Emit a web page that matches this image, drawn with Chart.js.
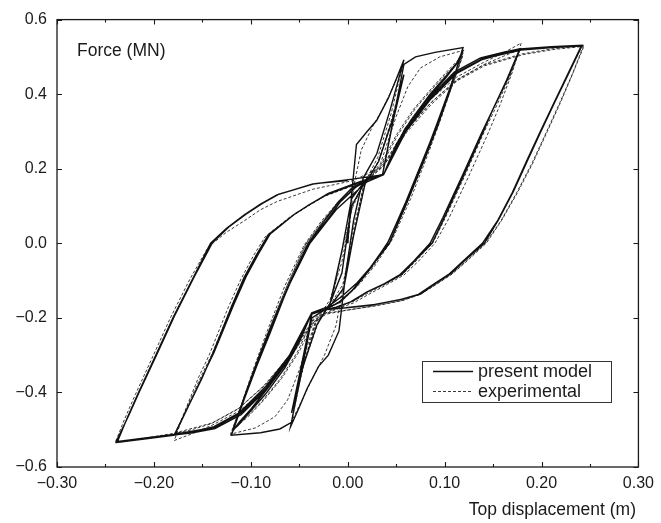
<!DOCTYPE html>
<html>
<head>
<meta charset="utf-8">
<script src="https://cdn.jsdelivr.net/npm/chart.js@4/dist/chart.umd.min.js"></script>
<style>
  html, body { margin: 0; padding: 0; background: #ffffff; }
  canvas { display: block; }
</style>
</head>
<body>
<canvas id="chart" width="661" height="523"></canvas>
<script>
// Top displacement (m) vs. force (MN), cyclic test at ±0.06, ±0.12, ±0.18, ±0.24 m

const xTickValues = [-0.30, -0.20, -0.10, 0.00, 0.10, 0.20, 0.30];
const xTickLabels = ['\u22120.30', '\u22120.20', '\u22120.10', '0.00', '0.10', '0.20', '0.30'];
const yTickValues = [-0.6, -0.4, -0.2, 0.0, 0.2, 0.4, 0.6];
const yTickLabels = ['\u22120.6', '\u22120.4', '\u22120.2', '0.0', '0.2', '0.4', '0.6'];

const seriesNames = ['present model', 'experimental'];

// present model: [displacement, force]
const modelLoop06 = [
  [0.000,0.000],[0.004,0.130],[0.009,0.265],[0.020,0.300],[0.030,0.330],[0.042,0.390],[0.050,0.440],[0.058,0.492],
  [0.044,0.360],[0.030,0.240],[0.016,0.175],[0.006,0.060],[-0.002,-0.080],[-0.009,-0.235],
  [-0.020,-0.300],[-0.030,-0.330],[-0.042,-0.390],[-0.050,-0.440],[-0.059,-0.492],
  [-0.048,-0.350],[-0.037,-0.200],[-0.020,-0.172],[-0.006,-0.080],[0.004,0.100],[0.020,0.175],[0.036,0.185],
  [0.047,0.330],[0.058,0.452],
  [0.046,0.330],[0.032,0.220],[0.018,0.160],[0.006,0.020],[-0.004,-0.120],[-0.020,-0.175],[-0.037,-0.190],
  [-0.048,-0.330],[-0.058,-0.455],
  [-0.046,-0.330],[-0.032,-0.220],[-0.018,-0.160],[-0.006,-0.020],[0.004,0.120],[0.020,0.175],[0.036,0.185]
];
const modelLoop12 = [
  [0.058,0.480],[0.070,0.500],[0.090,0.512],[0.119,0.525],
  [0.107,0.423],[0.093,0.316],[0.080,0.230],[0.062,0.115],[0.043,0.000],[0.025,-0.060],[0.010,-0.105],[-0.005,-0.140],[-0.020,-0.170],[-0.037,-0.186],
  [-0.058,-0.480],[-0.070,-0.498],[-0.090,-0.508],[-0.120,-0.515],
  [-0.107,-0.420],[-0.094,-0.330],[-0.080,-0.240],[-0.062,-0.120],[-0.039,0.000],[-0.024,0.050],[-0.012,0.090],[0.005,0.130],[0.020,0.165],[0.037,0.184],
  [0.045,0.235],[0.059,0.307],[0.083,0.390],[0.100,0.440],[0.112,0.480],[0.119,0.518],
  [0.106,0.420],[0.092,0.320],[0.079,0.230],[0.060,0.110],[0.041,0.000],[0.022,-0.070],[0.005,-0.125],[-0.010,-0.160],[-0.024,-0.178],[-0.037,-0.186],
  [-0.045,-0.235],[-0.059,-0.307],[-0.083,-0.390],[-0.100,-0.445],[-0.112,-0.480],[-0.119,-0.505],
  [-0.106,-0.410],[-0.092,-0.310],[-0.078,-0.220],[-0.060,-0.110],[-0.040,0.000],[-0.022,0.060],[-0.008,0.110],[0.008,0.150],[0.022,0.172],[0.037,0.184],
  [0.050,0.265],[0.065,0.330],[0.085,0.400],[0.102,0.450],[0.113,0.485],[0.118,0.512],
  [0.105,0.410],[0.091,0.310],[0.077,0.220],[0.059,0.105],[0.042,0.005],[0.024,-0.065],[0.008,-0.118],[-0.008,-0.158],[-0.024,-0.178],[-0.037,-0.186],
  [-0.050,-0.265],[-0.065,-0.335],[-0.085,-0.405],[-0.102,-0.455],[-0.113,-0.488],[-0.118,-0.500],
  [-0.105,-0.400],[-0.091,-0.300],[-0.077,-0.210],[-0.059,-0.100],[-0.041,0.000],[-0.024,0.060],[-0.010,0.110],[0.005,0.150],[0.020,0.170],[0.037,0.184]
];
const modelLoop18 = [
  [0.059,0.307],[0.083,0.387],[0.110,0.459],[0.137,0.497],[0.160,0.512],[0.178,0.522],
  [0.165,0.440],[0.150,0.360],[0.140,0.300],[0.120,0.183],[0.100,0.070],[0.087,0.000],[0.070,-0.045],[0.056,-0.083],[0.040,-0.106],[0.022,-0.128],[0.005,-0.155],[-0.010,-0.170],[-0.022,-0.178],[-0.037,-0.186],
  [-0.059,-0.307],[-0.083,-0.390],[-0.110,-0.460],[-0.137,-0.497],[-0.160,-0.508],[-0.179,-0.514],
  [-0.165,-0.440],[-0.150,-0.360],[-0.140,-0.300],[-0.120,-0.170],[-0.107,-0.092],[-0.094,-0.030],[-0.082,0.023],[-0.056,0.076],[-0.040,0.103],[-0.022,0.130],[0.005,0.156],[0.022,0.174],[0.037,0.184],
  [0.060,0.300],[0.085,0.385],[0.112,0.455],[0.138,0.492],[0.160,0.508],[0.177,0.518],
  [0.164,0.438],[0.149,0.355],[0.138,0.295],[0.118,0.180],[0.098,0.068],[0.085,0.000],[0.068,-0.048],[0.054,-0.084],[0.038,-0.108],[0.020,-0.130],[0.003,-0.157],[-0.012,-0.171],[-0.024,-0.179],[-0.037,-0.186],
  [-0.060,-0.300],[-0.085,-0.385],[-0.112,-0.455],[-0.138,-0.492],[-0.160,-0.505],[-0.178,-0.511],
  [-0.164,-0.435],[-0.149,-0.352],[-0.138,-0.293],[-0.118,-0.167],[-0.105,-0.090],[-0.092,-0.028],[-0.080,0.025],[-0.054,0.080],[-0.038,0.106],[-0.020,0.134],[0.007,0.160],[0.023,0.175],[0.037,0.184]
];
const modelLoop24 = [
  [0.059,0.307],[0.083,0.387],[0.110,0.459],[0.137,0.497],[0.178,0.521],[0.210,0.527],[0.242,0.531],
  [0.227,0.450],[0.213,0.375],[0.199,0.298],[0.185,0.219],[0.171,0.139],[0.156,0.065],[0.141,0.000],[0.120,-0.048],[0.107,-0.080],[0.090,-0.109],[0.075,-0.136],[0.056,-0.150],[0.026,-0.165],[-0.002,-0.173],[-0.022,-0.177],[-0.037,-0.186],
  [-0.059,-0.307],[-0.083,-0.390],[-0.110,-0.460],[-0.137,-0.497],[-0.180,-0.515],[-0.210,-0.525],[-0.238,-0.534],
  [-0.227,-0.465],[-0.216,-0.401],[-0.198,-0.300],[-0.180,-0.198],[-0.160,-0.095],[-0.1415,0.000],[-0.125,0.040],[-0.107,0.076],[-0.090,0.105],[-0.073,0.130],[-0.036,0.159],[0.005,0.172],[0.037,0.184],
  [0.060,0.305],[0.084,0.385],[0.111,0.456],[0.138,0.494],[0.179,0.518],[0.211,0.525],[0.241,0.529],
  [0.226,0.448],[0.212,0.372],[0.198,0.296],[0.184,0.217],[0.170,0.137],[0.155,0.062],[0.139,0.000],[0.118,-0.050],[0.105,-0.082],[0.088,-0.111],[0.073,-0.137],[0.054,-0.151],[0.024,-0.166],[-0.004,-0.174],[-0.022,-0.178],[-0.037,-0.186],
  [-0.060,-0.305],[-0.084,-0.388],[-0.111,-0.457],[-0.138,-0.494],[-0.180,-0.513],[-0.211,-0.523],[-0.239,-0.532],
  [-0.226,-0.462],[-0.215,-0.398],[-0.197,-0.298],[-0.179,-0.196],[-0.159,-0.093],[-0.140,0.000],[-0.123,0.043],[-0.105,0.078],[-0.088,0.107],[-0.071,0.132],[-0.034,0.160],[0.000,0.168]
];

// experimental: [displacement, force]
const testLoop06 = [
  [0.000,0.000],[0.006,0.150],[0.014,0.250],[0.025,0.310],[0.036,0.360],[0.047,0.420],[0.057,0.480],
  [0.045,0.350],[0.031,0.230],[0.017,0.160],[0.007,0.050],[-0.003,-0.090],[-0.012,-0.220],[-0.024,-0.300],[-0.036,-0.360],[-0.047,-0.420],[-0.058,-0.478],
  [-0.047,-0.340],[-0.033,-0.210],[-0.018,-0.150],[-0.006,-0.050],[0.004,0.090],[0.016,0.160],[0.032,0.220],[0.045,0.330],[0.057,0.445],
  [0.045,0.320],[0.030,0.210],[0.016,0.150],[0.005,0.010],[-0.005,-0.110],[-0.018,-0.165],[-0.033,-0.215],[-0.046,-0.330],[-0.057,-0.448],
  [-0.045,-0.320],[-0.030,-0.210],[-0.016,-0.150],[-0.005,-0.010],[0.006,0.110],[0.018,0.165],[0.034,0.215]
];
const testLoop12 = [
  [0.050,0.340],[0.062,0.420],[0.075,0.470],[0.095,0.500],[0.120,0.518],
  [0.110,0.440],[0.097,0.340],[0.083,0.240],[0.065,0.120],[0.046,0.010],[0.028,-0.060],[0.012,-0.110],[-0.004,-0.150],[-0.020,-0.175],[-0.034,-0.215],
  [-0.050,-0.340],[-0.062,-0.420],[-0.075,-0.465],[-0.095,-0.495],[-0.121,-0.512],
  [-0.110,-0.435],[-0.097,-0.335],[-0.083,-0.235],[-0.065,-0.115],[-0.045,-0.005],[-0.027,0.060],[-0.012,0.105],[0.004,0.145],[0.020,0.172],[0.034,0.210],
  [0.050,0.290],[0.068,0.360],[0.088,0.420],[0.104,0.465],[0.119,0.505],
  [0.108,0.425],[0.094,0.325],[0.080,0.230],[0.062,0.115],[0.044,0.005],[0.026,-0.062],[0.010,-0.112],[-0.006,-0.152],[-0.021,-0.176],[-0.035,-0.212],
  [-0.050,-0.290],[-0.068,-0.362],[-0.088,-0.425],[-0.104,-0.468],[-0.119,-0.500],
  [-0.108,-0.420],[-0.094,-0.320],[-0.080,-0.225],[-0.062,-0.110],[-0.043,0.000],[-0.025,0.062],[-0.010,0.108],[0.006,0.148],[0.021,0.173],[0.035,0.210],
  [0.052,0.292],[0.070,0.362],[0.090,0.422],[0.106,0.466],[0.118,0.498],
  [0.107,0.418],[0.093,0.318],[0.079,0.222],[0.061,0.108],[0.043,0.000],[0.025,-0.064],[0.009,-0.114],[-0.007,-0.154],[-0.022,-0.177],[-0.036,-0.205],
  [-0.052,-0.292],[-0.070,-0.365],[-0.090,-0.428],[-0.106,-0.470],[-0.118,-0.495],
  [-0.107,-0.413],[-0.093,-0.313],[-0.079,-0.218],[-0.061,-0.104],[-0.042,0.002],[-0.024,0.064],[-0.009,0.110],[0.007,0.150],[0.022,0.175],[0.036,0.205]
];
const testLoop18 = [
  [0.060,0.310],[0.085,0.385],[0.112,0.445],[0.140,0.485],[0.160,0.510],[0.179,0.537],
  [0.170,0.460],[0.157,0.370],[0.144,0.290],[0.124,0.175],[0.104,0.065],[0.090,0.000],[0.073,-0.048],[0.058,-0.085],[0.041,-0.110],[0.023,-0.135],[0.006,-0.160],[-0.010,-0.175],[-0.024,-0.190],[-0.036,-0.215],
  [-0.060,-0.310],[-0.085,-0.390],[-0.112,-0.450],[-0.140,-0.488],[-0.160,-0.510],[-0.179,-0.529],
  [-0.168,-0.450],[-0.154,-0.360],[-0.143,-0.300],[-0.123,-0.170],[-0.110,-0.095],[-0.097,-0.032],[-0.085,0.018],[-0.060,0.070],[-0.043,0.097],[-0.025,0.125],[0.003,0.152],[0.021,0.172],[0.036,0.210],
  [0.061,0.305],[0.087,0.380],[0.114,0.440],[0.141,0.480],[0.161,0.502],[0.178,0.520],
  [0.167,0.445],[0.152,0.360],[0.141,0.300],[0.121,0.182],[0.101,0.070],[0.088,0.002],[0.071,-0.046],[0.057,-0.083],[0.040,-0.108],[0.022,-0.132],[0.004,-0.158],[-0.011,-0.173],[-0.024,-0.188],[-0.037,-0.210],
  [-0.061,-0.305],[-0.087,-0.383],[-0.114,-0.446],[-0.141,-0.484],[-0.161,-0.500],[-0.178,-0.510],
  [-0.166,-0.440],[-0.151,-0.355],[-0.140,-0.297],[-0.120,-0.170],[-0.107,-0.093],[-0.094,-0.030],[-0.082,0.020],[-0.058,0.072],[-0.041,0.100],[-0.023,0.128],[0.004,0.155],[0.022,0.173],[0.037,0.207]
];
const testLoop24 = [
  [0.060,0.300],[0.085,0.375],[0.112,0.438],[0.140,0.478],[0.180,0.508],[0.212,0.522],[0.244,0.530],
  [0.233,0.460],[0.220,0.380],[0.206,0.300],[0.191,0.215],[0.175,0.135],[0.159,0.062],[0.143,0.000],[0.122,-0.050],[0.108,-0.082],[0.091,-0.111],[0.076,-0.135],[0.057,-0.153],[0.027,-0.168],[-0.002,-0.180],[-0.022,-0.190],[-0.036,-0.212],
  [-0.060,-0.300],[-0.085,-0.380],[-0.112,-0.442],[-0.140,-0.482],[-0.180,-0.510],[-0.212,-0.524],[-0.240,-0.535],
  [-0.230,-0.470],[-0.219,-0.405],[-0.201,-0.303],[-0.183,-0.200],[-0.163,-0.097],[-0.144,-0.010],[-0.125,0.030],[-0.107,0.060],[-0.090,0.090],[-0.073,0.112],[-0.036,0.145],[0.005,0.168],[0.036,0.205],
  [0.061,0.298],[0.086,0.372],[0.113,0.436],[0.141,0.476],[0.181,0.506],[0.213,0.520],[0.243,0.528],
  [0.232,0.455],[0.219,0.378],[0.205,0.298],[0.190,0.214],[0.174,0.134],[0.158,0.060],[0.142,0.000],[0.121,-0.051],[0.107,-0.083],[0.090,-0.112],[0.075,-0.137],[0.056,-0.154],[0.026,-0.169],[-0.003,-0.180],[-0.023,-0.188]
];

const toPoints = loops => loops.flat().map(([x, y]) => ({ x, y }));
const modelPoints = toPoints([modelLoop06, modelLoop12, modelLoop18, modelLoop24]);
const testPoints = toPoints([testLoop06, testLoop12, testLoop18, testLoop24]);

const FONT = '"Liberation Sans", Arial, Helvetica, sans-serif';
const INK = '#1a1a1a';

// frame, inward ticks, axis captions and the boxed legend
const decorations = {
  id: 'decorations',
  afterDraw(chart) {
    const { ctx, chartArea: a, scales: { x, y } } = chart;
    ctx.save();
    ctx.strokeStyle = INK;
    ctx.lineWidth = 1.3;
    ctx.strokeRect(a.left, a.top, a.right - a.left, a.bottom - a.top);

    ctx.lineWidth = 1.1;
    ctx.beginPath();
    for (let i = 0; i <= 12; i++) {
      const v = -0.30 + i * 0.05;
      const px = Math.round(x.getPixelForValue(v)) + 0.5;
      const len = (i % 2 === 0) ? 5 : 3;
      ctx.moveTo(px, a.bottom); ctx.lineTo(px, a.bottom - len);
      ctx.moveTo(px, a.top); ctx.lineTo(px, a.top + len);
    }
    yTickValues.forEach(v => {
      const py = Math.round(y.getPixelForValue(v)) + 0.5;
      ctx.moveTo(a.left, py); ctx.lineTo(a.left + 5, py);
      ctx.moveTo(a.right, py); ctx.lineTo(a.right - 5, py);
    });
    ctx.stroke();

    ctx.fillStyle = INK;
    ctx.font = '17.5px ' + FONT;
    ctx.textBaseline = 'alphabetic';
    ctx.textAlign = 'left';
    ctx.fillText('Force (MN)', 77, 56);
    ctx.textAlign = 'right';
    ctx.fillText('Top displacement (m)', 636, 515);

    // legend
    const lx = 422.5, ly = 361.5, lw = 189, lh = 41;
    ctx.lineWidth = 1;
    ctx.strokeStyle = '#333';
    ctx.strokeRect(lx, ly, lw, lh);
    ctx.font = '18px ' + FONT;
    chart.data.datasets.forEach((ds, i) => {
      const yy = ly + 10 + i * 20;
      ctx.save();
      ctx.strokeStyle = ds.borderColor;
      ctx.lineWidth = ds.borderWidth;
      ctx.setLineDash(ds.borderDash || []);
      ctx.beginPath();
      ctx.moveTo(433, yy); ctx.lineTo(473, yy);
      ctx.stroke();
      ctx.restore();
      ctx.textAlign = 'left';
      ctx.textBaseline = 'middle';
      ctx.fillText(ds.label, 478, yy + 1);
    });
    ctx.restore();
  }
};

new Chart(document.getElementById('chart'), {
  type: 'scatter',
  data: {
    datasets: [
      {
        label: seriesNames[0],
        data: modelPoints,
        showLine: true,
        borderColor: '#111111',
        borderWidth: 1.4,
        pointRadius: 0,
        tension: 0,
        fill: false,
        order: 1
      },
      {
        label: seriesNames[1],
        data: testPoints,
        showLine: true,
        borderColor: '#222222',
        borderWidth: 0.9,
        borderDash: [3, 2],
        pointRadius: 0,
        tension: 0,
        fill: false,
        order: 2
      }
    ]
  },
  options: {
    responsive: false,
    animation: false,
    devicePixelRatio: 1,
    layout: { padding: { top: 17, right: 15, left: 0, bottom: 0 } },
    plugins: { legend: { display: false }, tooltip: { enabled: false }, title: { display: false } },
    scales: {
      x: {
        type: 'linear',
        min: -0.30,
        max: 0.30,
        afterBuildTicks: s => { s.ticks = xTickValues.map(v => ({ value: v })); },
        afterFit: s => { s.height = 56; },
        ticks: {
          callback: (v, i) => xTickLabels[i],
          font: { family: FONT, size: 16 },
          color: INK,
          padding: 7,
          maxRotation: 0,
          autoSkip: false
        },
        grid: { display: false, drawTicks: false },
        border: { display: false }
      },
      y: {
        type: 'linear',
        min: -0.6,
        max: 0.6,
        afterBuildTicks: s => { s.ticks = yTickValues.map(v => ({ value: v })); },
        afterFit: s => { s.width = 57; },
        ticks: {
          callback: (v, i) => yTickLabels[i],
          font: { family: FONT, size: 16 },
          color: INK,
          padding: 10,
          autoSkip: false
        },
        grid: { display: false, drawTicks: false },
        border: { display: false }
      }
    }
  },
  plugins: [decorations]
});
</script>
</body>
</html>
